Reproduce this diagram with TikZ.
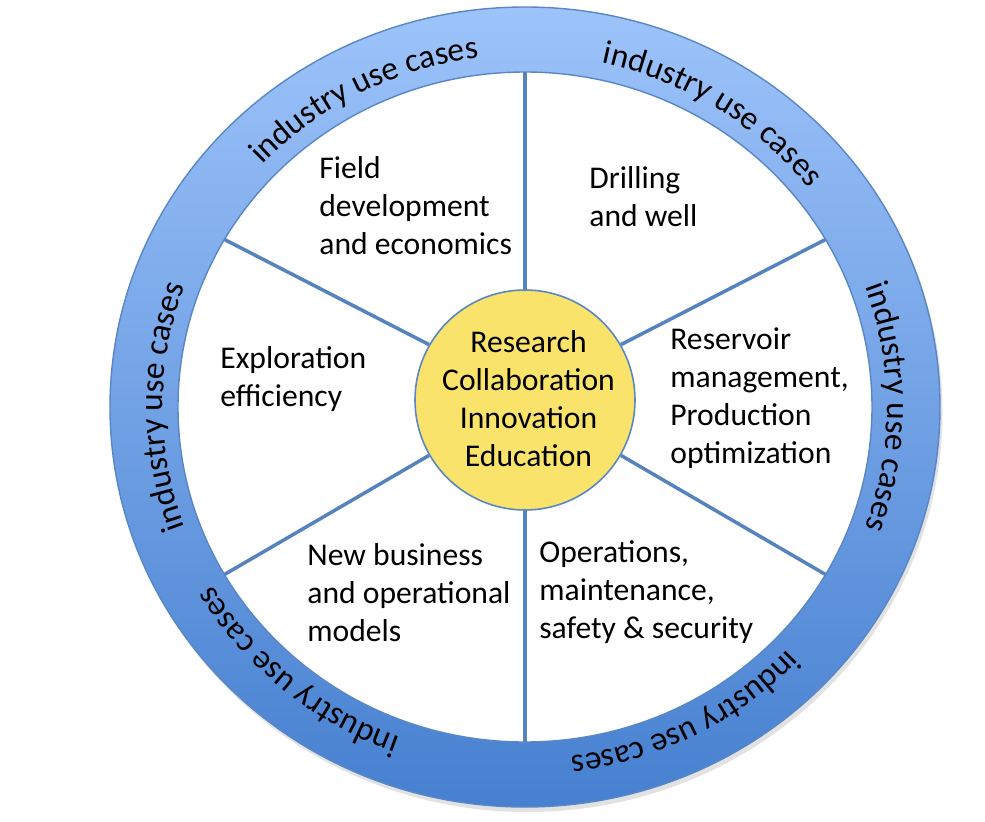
\documentclass[tikz,border=0pt]{standalone}
\usepackage{fontspec}
\setmainfont{Carlito}
\usetikzlibrary{decorations.text}

\definecolor{ringtop}{HTML}{9DC3FA}
\definecolor{ringbot}{HTML}{4680D0}
\definecolor{ringline}{HTML}{5A86C4}
\definecolor{spokeblue}{HTML}{5683BE}
\definecolor{hubyellow}{HTML}{F9E36A}

\newcommand{\ringfont}{\fontsize{19}{22}\selectfont}
\newcommand{\boxfont}{\fontsize{18}{21.6}\selectfont}

\begin{document}
\begin{tikzpicture}[
    spoke/.style={draw=spokeblue, line width=2pt},
    area/.style={anchor=west, align=left, inner sep=0pt, font=\boxfont},
    hubdisc/.style={circle, minimum size=4.4cm, inner sep=0pt, fill=hubyellow, draw=ringline, line width=0.9pt},
    hubtext/.style={align=center, inner sep=0pt, font=\boxfont}]
\useasboundingbox (-10.5,-8.28) rectangle (9.2,8.14);
%\draw[step=1,color=gray] (-10,-8) grid (9,8);

% ring with its shadow
\fill[black!25, opacity=.45, even odd rule] (0.05,-0.1) ellipse (8.3cm and 8cm) (0.05,-0.1) ellipse (6.94cm and 6.7cm);
\shade[top color=ringtop, bottom color=ringbot, even odd rule] (0,0) ellipse (8.3cm and 8cm) (0,0) ellipse (6.94cm and 6.7cm);
\draw[ringline, line width=0.8pt] (0,0) ellipse (8.3cm and 8cm);
\draw[ringline, line width=0.8pt, fill=white] (0,0) ellipse (6.94cm and 6.7cm);

% ring labels
\foreach \c in {117,58,0,-63,-130,180}
  \path[decorate, decoration={text along path, text align=center,
        text={|\ringfont|industry use cases}}]
    (\c+30:7.24cm and 7.04cm) arc[start angle=\c+30, end angle=\c-30, x radius=7.24cm, y radius=7.04cm];

% hub and spokes
\node[hubdisc] (hub) at (0,0.14) {};
\foreach \a in {90,30,-30,-90,-150,150} {
  \coordinate (rim\a) at (\a:6.94cm and 6.7cm);
  \draw[spoke] (hub.\a) -- (rim\a);
}
\node[hubtext] (hubtxt) at ([xshift=2pt,yshift=1pt]hub.center) {Research\\Collaboration\\Innovation\\Education};

% areas
\node[area] (field) at (-4.12,4.03) {Field\\development\\and economics};
\node[area] (drilling) at (1.28,4.21) {Drilling\\and well};
\node[area] (explore) at (-6.1,0.55) {Exploration\\efficiency};
\node[area] (reservoir) at (2.9,0.18) {Reservoir\\management,\\Production\\optimization};
\node[area] (newbiz) at (-4.36,-3.71) {New business\\and operational\\models};
\node[area] (operations) at (0.28,-3.7) {Operations,\\maintenance,\\safety \& security};
\end{tikzpicture}
\end{document}
